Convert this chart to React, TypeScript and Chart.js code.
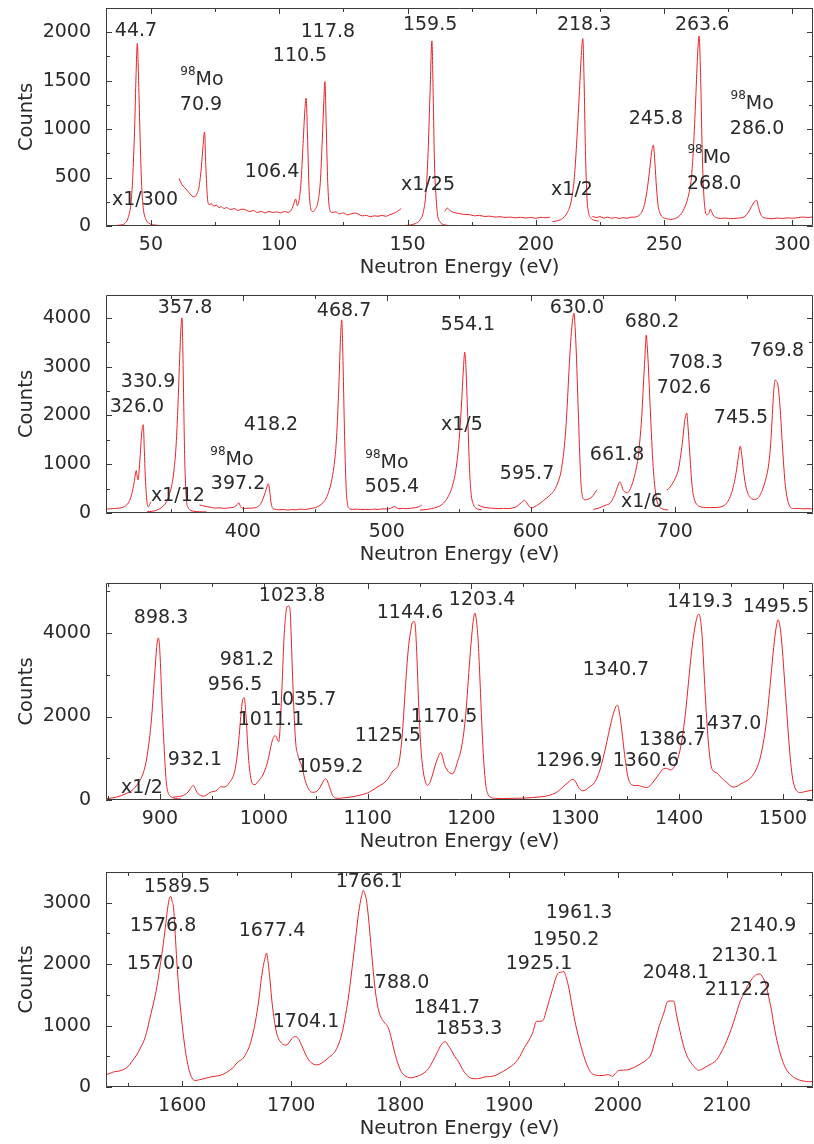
import { useEffect, useRef } from 'react';
import { Chart, registerables } from 'chart.js';

Chart.register(...registerables);

type Pt = [number, number];
type Note = { text: string; x: number; y: number; sup?: string };

// ---------- Panel 1: 32–308 eV ----------
const p1XTicks = [50, 100, 150, 200, 250, 300];
const p1YTicks = [0, 500, 1000, 1500, 2000];
const p1SegA: Pt[] = [[33,3],[36,5],[38,10],[40,30],[41.3,100],[42.3,250],[43.0,550],[43.7,1050],[44.2,1550],[44.7,1885],[45.2,1500],[45.8,900],[46.4,420],[47.1,170],[48,70],[49.5,25],[51.5,10],[54,5]];
const p1SegB: Pt[] = [[61,490],[62,430],[63,400],[64,370],[65,340],[66,310],[67,300],[67.8,325],[68.8,410],[69.7,620],[70.3,820],[70.9,970],[71.4,620],[72,300],[72.7,220],[73.5,230],[74.5,205],[75.5,215],[76.5,190],[77.5,200],[78.5,180],[79.5,190],[81,170],[82.5,180],[84,160],[85.5,175],[87,165],[88.5,150],[90,160],[91.5,140],[93,150],[94.5,135],[96,150],[97.5,140],[99,145],[100.5,135],[102,150],[103.5,140],[104.8,170],[105.7,230],[106.4,280],[107,210],[107.7,260],[108.5,450],[109.3,850],[110,1200],[110.5,1320],[111,950],[111.6,400],[112.2,190],[113,150],[114,170],[115,240],[116,450],[116.8,900],[117.4,1300],[117.8,1490],[118.3,1050],[118.9,450],[119.6,180],[120.5,140],[122,145],[123.5,125],[125,135],[126.5,115],[128,125],[129.5,135],[131,120],[132.5,105],[134,110],[135.5,95],[137,105],[138.5,100],[140,110],[141.5,100],[143,115],[144.5,130],[146,150],[147.5,180]];
const p1SegC: Pt[] = [[148.5,5],[151,10],[153,25],[154.8,60],[156.2,150],[157.2,350],[158,750],[158.8,1400],[159.5,1910],[160,1350],[160.5,650],[161,350],[161.7,120],[162.7,40],[164,15],[166,5]];
const p1SegD: Pt[] = [[164.5,150],[165.5,185],[166.5,160],[168,140],[170,130],[172,120],[174,118],[176,105],[178,110],[180,98],[182,102],[184,92],[186,96],[188,88],[190,92],[192,84],[194,90],[196,82],[198,88],[200,80],[202,90],[204,85],[205.5,92]];
const p1SegE: Pt[] = [[206.5,45],[208.5,55],[210.5,80],[212.3,140],[213.8,260],[215,500],[216,900],[217,1400],[217.8,1800],[218.3,1935],[218.8,1500],[219.3,800],[219.9,300],[220.6,130],[221.5,80],[222.8,60],[224.5,50]];
const p1SegF: Pt[] = [[222,100],[223.5,88],[225,96],[226.5,82],[228,92],[229.5,80],[231,88],[232.5,78],[234,86],[235.5,80],[237,90],[238.5,92],[240,105],[241.2,140],[242.3,220],[243.3,360],[244.3,570],[245.1,760],[245.8,835],[246.4,650],[247,400],[247.6,220],[248.4,130],[249.5,90],[251,75],[252.5,68],[254,75],[255.5,95],[256.8,130],[257.8,180],[258.7,240],[259.6,330],[260.5,470],[261.3,750],[262.2,1250],[263,1750],[263.6,1960],[264.2,1550],[264.8,800],[265.4,350],[266,160],[266.7,115],[267.4,130],[268,175],[268.6,140],[269.3,105],[270.5,85],[272,78],[274,82],[276,75],[278,80],[280,85],[281.5,100],[282.8,140],[284,200],[285.2,250],[286,265],[286.8,190],[287.6,120],[288.6,90],[290,80],[292,75],[294,82],[296,78],[298,84],[300,80],[302,86],[304,92],[306,88],[308,96]];
const p1Notes: Note[] = [
  { text: '44.7', x: 44.2, y: 2013 },
  { sup: '98', text: 'Mo', x: 69.9, y: 1507 },
  { text: '70.9', x: 69.5, y: 1249 },
  { text: '110.5', x: 108.1, y: 1755 },
  { text: '117.8', x: 119.0, y: 2002 },
  { text: '106.4', x: 97.2, y: 557 },
  { text: 'x1/300', x: 47.7, y: 268 },
  { text: '159.5', x: 158.8, y: 2075 },
  { text: 'x1/25', x: 158.0, y: 423 },
  { text: '218.3', x: 218.8, y: 2075 },
  { text: 'x1/2', x: 214.1, y: 372 },
  { text: '263.6', x: 264.8, y: 2075 },
  { text: '245.8', x: 246.8, y: 1104 },
  { sup: '98', text: 'Mo', x: 267.5, y: 702 },
  { text: '268.0', x: 269.5, y: 433 },
  { sup: '98', text: 'Mo', x: 284.3, y: 1259 },
  { text: '286.0', x: 286.2, y: 1001 },
];

// ---------- Panel 2: 305–796 eV ----------
const p2XTicks = [400, 500, 600, 700];
const p2YTicks = [0, 1000, 2000, 3000, 4000];
const p2SegA: Pt[] = [[305,80],[308,85],[311,92],[314,100],[317,120],[319.5,170],[321.5,260],[323,400],[324.5,620],[325.4,800],[326,870],[326.6,760],[327.3,680],[328.1,900],[329,1300],[330,1700],[330.9,1810],[331.6,1300],[332.3,750],[333,380],[333.7,170],[334.5,130],[335.5,190],[336.3,230]];
const p2SegB: Pt[] = [[333.5,25],[337,35],[340,55],[342.5,90],[345,150],[347,230],[349,380],[350.8,580],[352.3,900],[353.6,1350],[354.7,2000],[355.7,2800],[356.6,3500],[357.3,3900],[357.8,4000],[358.4,3300],[359,2200],[359.6,1200],[360.3,550],[361,230],[362,110],[363.5,60],[366,35],[370,25],[375,20]];
const p2SegC: Pt[] = [[370,165],[372,150],[375,130],[378,115],[381,100],[384,105],[387,95],[390,105],[392.5,110],[394.5,130],[396,170],[397.2,210],[398.2,150],[399.5,100],[402,95],[405,100],[408,105],[410.5,130],[412.5,190],[414.2,300],[415.6,420],[416.8,540],[417.6,600],[418.2,560],[418.8,420],[419.6,220],[420.5,110],[422,80],[425,65],[428,72],[431,60],[434,70],[437,65],[440,80],[443,72],[446,85],[449,100],[452,130],[455,190],[457.5,280],[459.5,420],[461.5,640],[463.3,950],[464.8,1400],[465.8,1950],[466.7,2600],[467.5,3300],[468.2,3800],[468.7,3960],[469.3,3500],[469.9,2700],[470.6,1700],[471.3,900],[472,400],[472.8,170],[474,90],[476,75],[479,80],[482,70],[485,75],[488,68],[491,80],[494,72],[497,85],[500,82],[502.5,95],[504.3,120],[505.4,135],[506.5,110],[508.5,90],[511,95],[514,88],[517,100],[520,110],[522.5,130],[524.3,165]];
const p2SegD: Pt[] = [[523,60],[527,70],[531,90],[535,120],[538.5,180],[541.5,280],[544,420],[546,600],[547.8,850],[549.5,1250],[551,1800],[552.3,2450],[553.3,3000],[554.1,3300],[554.8,3100],[555.6,2500],[556.4,1800],[557.2,1100],[558,600],[559,300],[560.2,170],[562,100],[564,75],[566,62]];
const p2SegE: Pt[] = [[563.5,165],[566,130],[569,110],[572,100],[575,95],[578,90],[581,95],[584,92],[587,100],[590,130],[592.5,190],[594.5,240],[595.7,260],[597,220],[598.5,150],[600,110],[602,120],[604,150],[606.5,200],[609,260],[612,330],[614.5,400],[617,500],[619,640],[620.8,820],[622.5,1150],[624,1600],[625.3,2200],[626.5,2900],[627.7,3500],[628.8,3900],[630,4100],[630.8,3800],[631.6,3300],[632.4,2600],[633.2,1900],[634,1200],[634.8,650],[635.6,380],[636.5,290],[638,270],[639.5,280],[641,300],[642.5,330],[644,390],[645.8,470]];
const p2SegF: Pt[] = [[643.5,75],[646,90],[649,120],[652,160],[655,200],[657.5,320],[659.5,480],[661,600],[661.8,640],[662.8,590],[664,480],[665.5,430],[667,410],[668.5,460],[670,560],[671.5,700],[673,880],[674.5,1130],[675.8,1500],[677,1950],[678,2500],[679,3050],[679.7,3450],[680.2,3650],[680.8,3450],[681.6,3050],[682.5,2450],[683.5,1800],[684.5,1200],[685.5,750],[686.5,450],[687.6,250],[689,140],[691,90],[693,70],[695.5,62]];
const p2SegG: Pt[] = [[694.5,470],[696.5,520],[698.5,610],[700.5,720],[702.6,900],[704.2,1200],[705.5,1500],[706.7,1850],[707.6,2000],[708.3,2050],[709,1850],[709.8,1500],[710.7,1100],[711.6,700],[712.6,420],[713.8,260],[715.5,170],[717.5,130],[720,115],[724,110],[728,112],[732,125],[735,170],[737.5,270],[739.5,420],[741.5,650],[743,900],[744.4,1200],[745.5,1370],[746.5,1200],[747.6,900],[748.8,640],[750.2,450],[751.8,340],[753.5,290],[755.5,280],[757.5,300],[759.5,380],[761.5,530],[763.5,730],[765,950],[766.3,1300],[767.3,1750],[768.2,2250],[769,2600],[769.8,2730],[770.6,2700],[771.5,2650],[772.5,2400],[773.5,2000],[774.5,1500],[775.5,1050],[776.5,650],[777.7,370],[779,200],[780.5,110],[783,90],[786,95],[789,85],[792,90],[796,82]];
const p2Notes: Note[] = [
  { text: '357.8', x: 359.9, y: 4203 },
  { text: '330.9', x: 334.2, y: 2686 },
  { text: '326.0', x: 326.5, y: 2173 },
  { text: '418.2', x: 419.6, y: 1804 },
  { sup: '98', text: 'Mo', x: 392.5, y: 1087 },
  { text: '397.2', x: 396.7, y: 595 },
  { text: 'x1/12', x: 355, y: 349 },
  { text: '468.7', x: 470.3, y: 4142 },
  { sup: '98', text: 'Mo', x: 500.1, y: 1025 },
  { text: '505.4', x: 503.6, y: 533 },
  { text: '554.1', x: 556.4, y: 3855 },
  { text: 'x1/5', x: 552.2, y: 1804 },
  { text: '595.7', x: 597.4, y: 800 },
  { text: '630.0', x: 632.1, y: 4203 },
  { text: '680.2', x: 684.2, y: 3916 },
  { text: '661.8', x: 659.9, y: 1189 },
  { text: 'x1/6', x: 677.2, y: 226 },
  { text: '708.3', x: 714.7, y: 3076 },
  { text: '702.6', x: 706.4, y: 2563 },
  { text: '745.5', x: 746, y: 1948 },
  { text: '769.8', x: 771, y: 3322 },
];

// ---------- Panel 3: 848–1529 eV ----------
const p3XTicks = [900, 1000, 1100, 1200, 1300, 1400, 1500];
const p3YTicks = [0, 2000, 4000];
const p3SegA: Pt[] = [[848,30],[853,45],[858,70],[863,110],[868,160],[872,210],[876,300],[880,440],[883.5,620],[886.5,900],[889,1300],[891.5,1850],[893.5,2500],[895.3,3150],[896.8,3650],[897.7,3850],[898.3,3880],[899.2,3800],[900.2,3400],[901.2,2800],[902.3,2100],[903.5,1500],[904.8,900],[906,450],[907.5,200],[909.5,100],[912,60],[915,35],[918,30],[920,30]];
const p3SegB: Pt[] = [[913,70],[917,80],[921,95],[924,130],[927,190],[929.5,280],[932.1,350],[934,270],[936,170],[939,110],[942,90],[945,120],[948,180],[951,200],[954,220],[956.5,280],[958.5,320],[961,310],[964,330],[967,420],[970,540],[972.5,750],[974.5,1100],[976.3,1550],[977.8,2000],[979,2300],[980,2420],[981.2,2450],[982.2,2250],[983.3,1850],[984.5,1300],[985.8,850],[987.5,520],[989.5,380],[991.5,370],[994,430],[997,520],[999.5,620],[1002,780],[1004.5,1000],[1006.5,1250],[1008.5,1450],[1010,1530],[1011.1,1540],[1012.3,1500],[1013.5,1420],[1014.5,1400],[1015.5,1650],[1016.8,2300],[1018,3000],[1019.3,3800],[1020.6,4300],[1022,4600],[1023.8,4650],[1025.3,4550],[1026.3,4000],[1027.4,3200],[1028.6,2400],[1029.8,1750],[1031,1300],[1032.6,1100],[1034.3,950],[1035.7,870],[1037.5,720],[1039.5,500],[1042,320],[1044.5,210],[1047.5,185],[1050.5,200],[1053,260],[1055.5,360],[1057.5,460],[1059.2,510],[1060.8,480],[1062.5,370],[1064.5,220],[1066.5,100],[1069,50],[1072,40],[1076,50],[1080,60],[1085,75],[1090,100],[1095,130],[1100,170],[1105,240],[1110,320],[1114,380],[1118,460],[1121,560],[1123.5,670],[1125.5,720],[1127.5,760],[1129.5,830],[1131.5,1100],[1133.5,1600],[1135.5,2350],[1137.5,3100],[1139.5,3700],[1141.5,4050],[1143,4250],[1144.6,4280],[1146,4150],[1147,3700],[1148,3100],[1149,2400],[1150.3,1700],[1151.8,1100],[1153.5,700],[1155.5,450],[1157.5,350],[1160,420],[1162.5,600],[1165,820],[1167.5,1000],[1169.5,1120],[1170.5,1140],[1172,1050],[1174,850],[1176.5,720],[1179,650],[1182,630],[1184.5,750],[1187,950],[1189.5,1150],[1192,1500],[1194.5,2050],[1196.5,2700],[1198.5,3400],[1200.5,4000],[1202,4350],[1203.4,4480],[1205,4250],[1206.5,3800],[1208,3000],[1209.5,2100],[1211,1300],[1212.5,700],[1214,330],[1216,130],[1219,60],[1223,40],[1230,35],[1240,40],[1250,45],[1260,60],[1268,80],[1275,110],[1281,170],[1285,240],[1288,310],[1291,380],[1294,440],[1296.9,490],[1299,480],[1301.5,380],[1304,270],[1307,220],[1310,240],[1313,300],[1316.5,360],[1320,480],[1323.5,700],[1327,1020],[1330.5,1400],[1333.5,1750],[1336.5,2050],[1339,2230],[1340.7,2270],[1342.5,2100],[1344.5,1750],[1346.5,1300],[1348.5,900],[1350.5,580],[1352.5,420],[1355,360],[1358,345],[1360.6,350],[1363,330],[1366,310],[1369,300],[1372,340],[1375,430],[1378,530],[1381,630],[1384,730],[1386.7,760],[1389,750],[1391.5,720],[1394,750],[1397,880],[1400,1100],[1403,1480],[1406,2050],[1409,2800],[1412,3550],[1415,4100],[1417.5,4400],[1419.3,4450],[1421,4250],[1422.5,3800],[1424,3100],[1425.5,2400],[1427,1800],[1428.5,1300],[1430,950],[1431.5,760],[1433.5,680],[1435.5,660],[1437,640],[1439,580],[1442,500],[1446,420],[1450,330],[1453,310],[1456,330],[1459,380],[1462,420],[1466,470],[1470,560],[1474,720],[1477.5,950],[1481,1350],[1484.5,1950],[1487.5,2700],[1490.5,3500],[1493,4050],[1495.5,4320],[1497.5,4100],[1499.5,3600],[1501.5,2900],[1503.5,2200],[1505.5,1500],[1507.5,900],[1509.5,500],[1511.5,300],[1514,200],[1517,180],[1521,200],[1525,220],[1529,240]];
const p3Notes: Note[] = [
  { text: '898.3', x: 901, y: 4361 },
  { text: '1023.8', x: 1027.2, y: 4889 },
  { text: '981.2', x: 983.8, y: 3355 },
  { text: '956.5', x: 972.3, y: 2756 },
  { text: '1035.7', x: 1037.8, y: 2396 },
  { text: '1011.1', x: 1006.9, y: 1917 },
  { text: '932.1', x: 933.7, y: 959 },
  { text: 'x1/2', x: 882.7, y: 288 },
  { text: '1059.2', x: 1063.8, y: 791 },
  { text: '1125.5', x: 1119.6, y: 1534 },
  { text: '1144.6', x: 1140.8, y: 4481 },
  { text: '1170.5', x: 1173.6, y: 1989 },
  { text: '1203.4', x: 1210.2, y: 4793 },
  { text: '1340.7', x: 1339.2, y: 3115 },
  { text: '1296.9', x: 1294, y: 935 },
  { text: '1360.6', x: 1368.1, y: 935 },
  { text: '1386.7', x: 1393.2, y: 1438 },
  { text: '1437.0', x: 1447.1, y: 1821 },
  { text: '1419.3', x: 1420.1, y: 4745 },
  { text: '1495.5', x: 1493.3, y: 4625 },
];

// ---------- Panel 4: 1530–2179 eV ----------
const p4XTicks = [1600, 1700, 1800, 1900, 2000, 2100];
const p4YTicks = [0, 1000, 2000, 3000];
const p4Seg: Pt[] = [[1530,200],[1534,225],[1538,250],[1542,260],[1546,285],[1550,330],[1554,420],[1558,520],[1562,650],[1565,760],[1568,940],[1570,1100],[1573,1320],[1576.8,1640],[1579.5,1950],[1582,2250],[1584.5,2600],[1586.5,2900],[1588.3,3080],[1589.5,3100],[1590.7,3020],[1592,2920],[1593.5,2500],[1595,2050],[1597,1550],[1599.5,1080],[1602,700],[1604.5,420],[1607,230],[1609.5,130],[1612,105],[1616,120],[1620,135],[1625,160],[1630,175],[1635,190],[1640,230],[1644,280],[1647,320],[1650,390],[1653,430],[1656,470],[1659,560],[1662,680],[1665,880],[1668,1150],[1670.5,1450],[1672.5,1750],[1674.5,1980],[1676,2100],[1677.4,2180],[1679,2000],[1680.5,1750],[1682,1450],[1684,1150],[1686,930],[1688,800],[1690,740],[1692,700],[1694.5,680],[1697,700],[1699.5,760],[1702,810],[1704.1,820],[1706.5,790],[1709,700],[1711.5,600],[1714,500],[1717,420],[1720,375],[1723,360],[1726,370],[1729,400],[1732,440],[1735,490],[1738,530],[1741,600],[1744,720],[1747,900],[1750,1180],[1753,1520],[1756,1950],[1759,2400],[1762,2850],[1764.5,3100],[1766.1,3200],[1767.5,3150],[1769,3050],[1771,2750],[1773,2350],[1775,1950],[1777,1600],[1779,1350],[1781,1200],[1783.5,1100],[1786,1040],[1788,1000],[1790,920],[1792.5,750],[1795,560],[1798,380],[1801,250],[1804,190],[1807,160],[1810,150],[1814,165],[1818,190],[1822,230],[1826,300],[1830,420],[1834,560],[1837.5,680],[1840,730],[1841.7,735],[1844,680],[1847,600],[1850,500],[1853.3,420],[1856,330],[1859,240],[1862,180],[1866,140],[1870,135],[1874,145],[1878,165],[1882,170],[1886,180],[1890,210],[1894,250],[1898,290],[1902,340],[1906,400],[1910,500],[1914,640],[1918,750],[1922,900],[1925.1,1070],[1928,1070],[1931,1080],[1934,1230],[1937,1420],[1940,1600],[1943,1780],[1945.5,1860],[1948,1870],[1950.2,1880],[1952.5,1780],[1955,1600],[1958,1300],[1961.3,1000],[1964,800],[1967,600],[1970,430],[1973,300],[1976,220],[1979,195],[1983,185],[1987,190],[1991,200],[1995,175],[1998,230],[2001,270],[2006,275],[2011,290],[2016,330],[2021,380],[2026,440],[2030,520],[2034,750],[2038,1000],[2042,1200],[2045.5,1390],[2048.1,1400],[2051,1400],[2054,1150],[2057,900],[2060,680],[2063,520],[2066,420],[2070,330],[2074,270],[2078,300],[2082,340],[2086,380],[2090,430],[2094,540],[2098,680],[2102,850],[2106,1050],[2110,1280],[2112.2,1400],[2115,1500],[2119,1650],[2123,1760],[2127,1830],[2130.1,1840],[2133,1780],[2136,1650],[2138.5,1450],[2140.9,1250],[2143,1020],[2146,750],[2149,540],[2152,380],[2155,270],[2159,190],[2163,140],[2167,110],[2171,95],[2175,85],[2179,90]];
const p4Notes: Note[] = [
  { text: '1589.5', x: 1595.2, y: 3250 },
  { text: '1576.8', x: 1582.3, y: 2613 },
  { text: '1570.0', x: 1579.6, y: 2009 },
  { text: '1677.4', x: 1682.4, y: 2531 },
  { text: '1766.1', x: 1771.4, y: 3332 },
  { text: '1704.1', x: 1713.6, y: 1062 },
  { text: '1788.0', x: 1796.2, y: 1699 },
  { text: '1841.7', x: 1843, y: 1290 },
  { text: '1853.3', x: 1863.2, y: 947 },
  { text: '1961.3', x: 1964.2, y: 2825 },
  { text: '1950.2', x: 1952.3, y: 2384 },
  { text: '1925.1', x: 1927.5, y: 2009 },
  { text: '2048.1', x: 2053.2, y: 1862 },
  { text: '2140.9', x: 2133.1, y: 2613 },
  { text: '2130.1', x: 2116.6, y: 2139 },
  { text: '2112.2', x: 2110.1, y: 1584 },
];

const RED = 'rgb(232,34,40)';
const TEXT = '#2a2a2a';
const FRAME = '#3a3a3a';
const FONT = '"DejaVu Sans", sans-serif';
const PAD_TOP = 20;
const X_AXIS_H = 54;
const Y_AXIS_W = 106;

type PanelCfg = {
  top: number;
  bottom: number;
  xMin: number;
  xMax: number;
  xTicks: number[];
  xMinor: number;
  yMax: number;
  yTicks: number[];
  yMinor: number;
  segments: Pt[][];
  notes: Note[];
};

const PANELS: PanelCfg[] = [
  { top: 8, bottom: 226, xMin: 32.5, xMax: 308, xTicks: p1XTicks, xMinor: 25, yMax: 2250, yTicks: p1YTicks, yMinor: 250,
    segments: [p1SegA, p1SegB, p1SegC, p1SegD, p1SegE, p1SegF], notes: p1Notes },
  { top: 295, bottom: 513, xMin: 305, xMax: 796, xTicks: p2XTicks, xMinor: 50, yMax: 4470, yTicks: p2YTicks, yMinor: 500,
    segments: [p2SegA, p2SegB, p2SegC, p2SegD, p2SegE, p2SegF, p2SegG], notes: p2Notes },
  { top: 583, bottom: 800, xMin: 848, xMax: 1529, xTicks: p3XTicks, xMinor: 50, yMax: 5200, yTicks: p3YTicks, yMinor: 1000,
    segments: [p3SegA, p3SegB], notes: p3Notes },
  { top: 872, bottom: 1087, xMin: 1530, xMax: 2179, xTicks: p4XTicks, xMinor: 50, yMax: 3500, yTicks: p4YTicks, yMinor: 500,
    segments: [p4Seg], notes: p4Notes },
];

function Panel({ cfg }: { cfg: PanelCfg }) {
  const ref = useRef<HTMLCanvasElement>(null);
  const height = PAD_TOP + (cfg.bottom - cfg.top) + X_AXIS_H;

  useEffect(() => {
    const canvas = ref.current;
    if (!canvas) return;

    // Box frame with inward ticks on all four sides (minor ticks between labelled ones)
    const framePlugin = {
      id: 'frameTicks',
      afterDatasetsDraw(chart: any) {
        const { ctx, chartArea } = chart;
        const { left, right, top, bottom } = chartArea;
        const xs = chart.scales.x;
        const ys = chart.scales.y;
        ctx.save();
        ctx.strokeStyle = FRAME;
        ctx.lineWidth = 1;
        ctx.beginPath();
        ctx.rect(Math.round(left) + 0.5, Math.round(top) + 0.5, Math.round(right - left) - 1, Math.round(bottom - top) - 1);
        ctx.stroke();
        ctx.beginPath();
        const x0 = Math.ceil(cfg.xMin / cfg.xMinor) * cfg.xMinor;
        for (let v = x0; v <= cfg.xMax + 1e-9; v += cfg.xMinor) {
          const px = Math.round(xs.getPixelForValue(v)) + 0.5;
          const len = cfg.xTicks.includes(v) ? 6 : 4;
          ctx.moveTo(px, bottom);
          ctx.lineTo(px, bottom - len);
          ctx.moveTo(px, top);
          ctx.lineTo(px, top + len);
        }
        for (let v = 0; v <= cfg.yMax + 1e-9; v += cfg.yMinor) {
          const py = Math.round(ys.getPixelForValue(v)) + 0.5;
          const len = cfg.yTicks.includes(v) ? 6 : 4;
          ctx.moveTo(left, py);
          ctx.lineTo(left + len, py);
          ctx.moveTo(right, py);
          ctx.lineTo(right - len, py);
        }
        ctx.stroke();
        ctx.restore();
      },
    };

    // Resonance energy annotations placed in data coordinates
    const notesPlugin = {
      id: 'resonanceNotes',
      afterDatasetsDraw(chart: any) {
        const { ctx } = chart;
        const xs = chart.scales.x;
        const ys = chart.scales.y;
        ctx.save();
        ctx.fillStyle = TEXT;
        ctx.textBaseline = 'middle';
        ctx.textAlign = 'left';
        const mainFont = `19px ${FONT}`;
        const supFont = `12px ${FONT}`;
        for (const n of cfg.notes) {
          const px = xs.getPixelForValue(n.x);
          const py = ys.getPixelForValue(n.y);
          ctx.font = mainFont;
          const wMain = ctx.measureText(n.text).width;
          let wSup = 0;
          if (n.sup) {
            ctx.font = supFont;
            wSup = ctx.measureText(n.sup).width;
          }
          const start = px - (wMain + wSup) / 2;
          if (n.sup) {
            ctx.font = supFont;
            ctx.fillText(n.sup, start, py - 8);
          }
          ctx.font = mainFont;
          ctx.fillText(n.text, start + wSup, py);
        }
        ctx.restore();
      },
    };

    const chart = new Chart(canvas, {
      type: 'line',
      data: {
        datasets: cfg.segments.map((seg) => ({
          data: seg.map(([x, y]) => ({ x, y })),
          borderColor: RED,
          borderWidth: 1,
          pointRadius: 0,
          fill: false,
          cubicInterpolationMode: 'monotone' as const,
        })),
      },
      options: {
        animation: false,
        responsive: false,
        devicePixelRatio: 1,
        layout: { padding: { top: PAD_TOP, right: 1, bottom: 0, left: 0 } },
        plugins: { legend: { display: false }, tooltip: { enabled: false } },
        scales: {
          x: {
            type: 'linear',
            min: cfg.xMin,
            max: cfg.xMax,
            grid: { display: false },
            border: { display: false },
            afterBuildTicks: (s: any) => { s.ticks = cfg.xTicks.map((value) => ({ value })); },
            ticks: {
              autoSkip: false,
              maxRotation: 0,
              padding: 0,
              color: TEXT,
              font: { family: FONT, size: 19 },
              callback: (v: any) => String(v),
            },
            title: {
              display: true,
              text: 'Neutron Energy (eV)',
              color: TEXT,
              font: { family: FONT, size: 19.5 },
              padding: 0,
            },
            afterFit: (s: any) => { s.height = X_AXIS_H; },
          },
          y: {
            type: 'linear',
            min: 0,
            max: cfg.yMax,
            grid: { display: false },
            border: { display: false },
            afterBuildTicks: (s: any) => { s.ticks = cfg.yTicks.map((value) => ({ value })); },
            ticks: {
              autoSkip: false,
              padding: 7,
              color: TEXT,
              font: { family: FONT, size: 19 },
              callback: (v: any) => String(v),
            },
            title: {
              display: true,
              text: 'Counts',
              color: TEXT,
              font: { family: FONT, size: 19.5 },
              padding: { top: 15, bottom: 0 },
            },
            afterFit: (s: any) => { s.width = Y_AXIS_W; },
          },
        },
      },
      plugins: [framePlugin, notesPlugin],
    } as any);

    return () => chart.destroy();
  }, [cfg]);

  return (
    <canvas
      ref={ref}
      width={814}
      height={height}
      style={{ position: 'absolute', left: 0, top: cfg.top - PAD_TOP, width: 814, height, display: 'block' }}
    />
  );
}

export default function App() {
  return (
    <div style={{ position: 'absolute', left: 0, top: 0, width: 814, height: 1144, overflow: 'hidden', background: '#fff' }}>
      {PANELS.map((p, i) => (
        <Panel key={i} cfg={p} />
      ))}
    </div>
  );
}
